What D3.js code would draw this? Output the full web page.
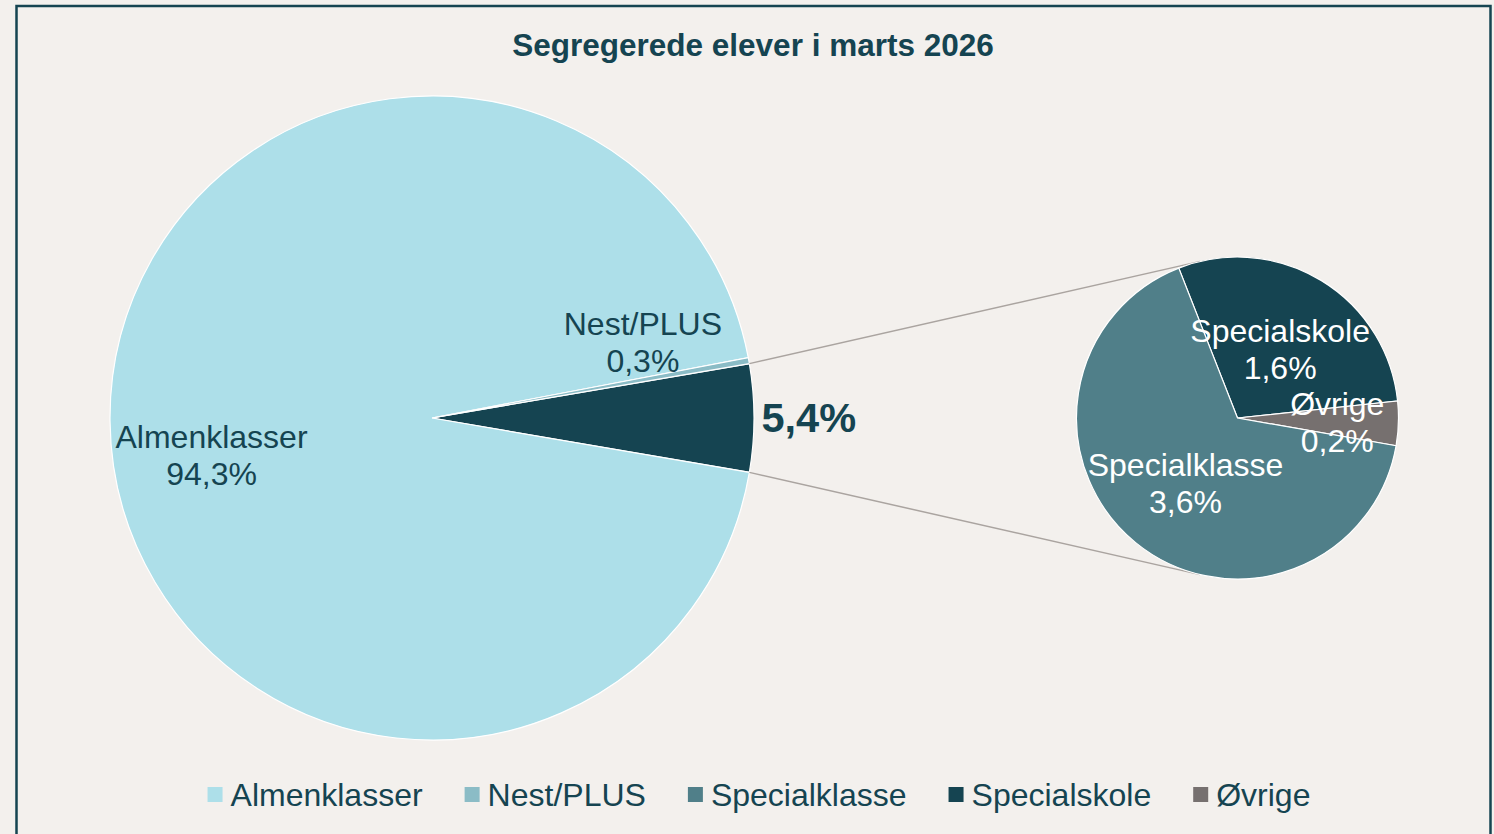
<!DOCTYPE html>
<html>
<head>
<meta charset="utf-8">
<script src="https://cdn.jsdelivr.net/npm/d3@7"></script>
<style>
  html, body { margin: 0; padding: 0; background: #f3f0ed; }
  svg { display: block; font-family: "Liberation Sans", Arial, sans-serif; }
</style>
</head>
<body>
<div id="chart"></div>
<script>
/* Data */
const title = "Segregerede elever i marts 2026"
const mainCategories = ["Almenklasser", "Nest/PLUS"]
const mainValues = [94.3, 0.3]
const subCategories = ["Specialskole", "Øvrige", "Specialklasse"]
const subValues = [1.58, 0.24, 3.58]
const legendCategories = ["Almenklasser", "Nest/PLUS", "Specialklasse", "Specialskole", "Øvrige"]

const colors = {
  "Almenklasser": "#addfe9",
  "Nest/PLUS": "#8bbcc6",
  "Specialklasse": "#507f89",
  "Specialskole": "#154451",
  "Øvrige": "#76706f",
  "Andet": "#154451"
}
const ink = "#154451"
const fmt = v => d3.format(".1f")(v).replace(".", ",") + "%"

/* Dimensions */
const width = 1494, height = 834
const main = { cx: 432, cy: 418, r: 322 }
const sub = { cx: 1237.5, cy: 418, r: 161 }
const deg = Math.PI / 180

const svg = d3.select("#chart").append("svg")
    .attr("width", width)
    .attr("height", height)

svg.append("rect")
    .attr("x", 16.5).attr("y", 6)
    .attr("width", 1474).attr("height", 860)
    .attr("fill", "#f3f0ed")
    .attr("stroke", ink)
    .attr("stroke-width", 2.5)

svg.append("text")
    .attr("x", 753).attr("y", 56)
    .attr("text-anchor", "middle")
    .attr("font-size", "31.5px")
    .attr("font-weight", "bold")
    .attr("fill", ink)
    .text(title)

/* Main pie */
const otherTotal = d3.sum(subValues)
const mainData = mainCategories.map((c, i) => ({ name: c, value: mainValues[i] }))
  .concat([{ name: "Andet", value: otherTotal }])
const mainTotal = d3.sum(mainData, d => d.value)
const otherSpan = otherTotal / mainTotal * 2 * Math.PI
// the combined slice is centred on 3 o'clock, the rest follows clockwise
const mainStart = Math.PI / 2 - otherSpan / 2
const mainPie = d3.pie()
    .sort(null)
    .value(d => d.value)
    .startAngle(mainStart)
    .endAngle(mainStart + 2 * Math.PI)
const mainArcs = mainPie(mainData.slice(2).concat(mainData.slice(0, 2)))
const mainArc = d3.arc().innerRadius(0).outerRadius(main.r)

const mainG = svg.append("g").attr("transform", `translate(${main.cx},${main.cy})`)
mainG.selectAll("path")
    .data(mainArcs)
    .join("path")
      .attr("d", mainArc)
      .attr("fill", d => colors[d.data.name])
      .attr("stroke", "#ffffff")
      .attr("stroke-width", 1.2)

/* Sub pie */
const subStart = -21.4 * deg
const subPie = d3.pie()
    .sort(null)
    .value(d => d.value)
    .startAngle(subStart)
    .endAngle(subStart + 2 * Math.PI)
const subArcs = subPie(subCategories.map((c, i) => ({ name: c, value: subValues[i] })))
const subArc = d3.arc().innerRadius(0).outerRadius(sub.r)

/* Connector lines */
const other = mainArcs[0]
const pt = (c, r, a) => [c.cx + r * Math.sin(a), c.cy - r * Math.cos(a)]
const connectorAngle = 13.4 * deg
const lines = [
  [pt(main, main.r, other.startAngle), pt(sub, sub.r, -connectorAngle)],
  [pt(main, main.r, other.endAngle), pt(sub, sub.r, Math.PI + connectorAngle)]
]
svg.selectAll("line.connector")
    .data(lines)
    .join("line")
      .attr("class", "connector")
      .attr("x1", d => d[0][0]).attr("y1", d => d[0][1])
      .attr("x2", d => d[1][0]).attr("y2", d => d[1][1])
      .attr("stroke", "#aaa4a0")
      .attr("stroke-width", 1.5)

const subG = svg.append("g").attr("transform", `translate(${sub.cx},${sub.cy})`)
subG.selectAll("path")
    .data(subArcs)
    .join("path")
      .attr("d", subArc)
      .attr("fill", d => colors[d.data.name])
      .attr("stroke", "#ffffff")
      .attr("stroke-width", 1.2)

/* Labels */
function twoLine(g, x, y, name, value, fill) {
  const t = g.append("text")
      .attr("text-anchor", "middle")
      .attr("font-size", "32px")
      .attr("fill", fill)
  t.append("tspan").attr("x", x).attr("y", y - 8).text(name)
  t.append("tspan").attr("x", x).attr("y", y + 29).text(value)
}

const mid = d => (d.startAngle + d.endAngle) / 2
// main labels sit a little counter-clockwise of the mid angle
mainArcs.slice(1).forEach(d => {
  const a = mid(d) - 9.3 * deg
  const r = main.r * 0.695
  twoLine(mainG, r * Math.sin(a), -r * Math.cos(a), d.data.name, fmt(d.data.value), ink)
})

mainG.append("text")
    .attr("x", main.r * 1.17 * Math.sin(mid(other)))
    .attr("y", -main.r * 1.17 * Math.cos(mid(other)) + 14)
    .attr("text-anchor", "middle")
    .attr("font-size", "41.5px")
    .attr("font-weight", "bold")
    .attr("fill", ink)
    .text(fmt(other.data.value))

subArcs.forEach(d => {
  const a = mid(d)
  const r = sub.r * (d.data.value < 1 ? 0.62 : 0.51)
  twoLine(subG, r * Math.sin(a), -r * Math.cos(a) + 2, d.data.name, fmt(d.data.value), "#ffffff")
})

/* Legend */
const legend = svg.append("g")
const legendGap = 42
let lx = 0
legendCategories.forEach(name => {
  const g = legend.append("g")
  g.append("rect")
      .attr("x", 0).attr("y", -19)
      .attr("width", 15).attr("height", 15)
      .attr("fill", colors[name])
  const t = g.append("text")
      .attr("x", 23).attr("y", 0)
      .attr("font-size", "32px")
      .attr("fill", ink)
      .text(name)
  const w = 23 + t.node().getComputedTextLength()
  g.attr("transform", `translate(${lx},0)`)
  lx += w + legendGap
})
const legendWidth = lx - legendGap
legend.attr("transform", `translate(${(width - legendWidth) / 2 + 12},806)`)
</script>
</body>
</html>
